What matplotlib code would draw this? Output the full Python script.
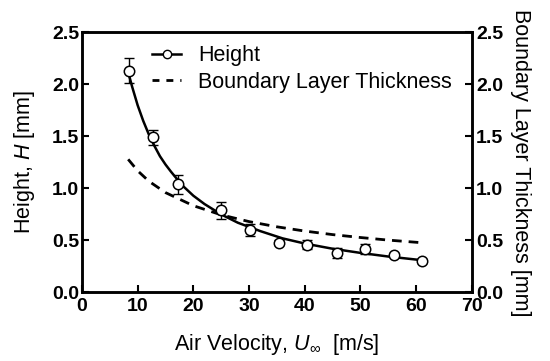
import matplotlib
matplotlib.use("Agg")
import matplotlib.pyplot as plt

# measured height (mean and error) vs air velocity
u_meas = [8.4, 12.7, 17.3, 25.0, 30.1, 35.3, 40.4, 45.8, 50.8, 56.0, 61.0]
h_meas = [2.13, 1.49, 1.04, 0.79, 0.60, 0.48, 0.46, 0.38, 0.42, 0.36, 0.30]
h_err = [0.12, 0.07, 0.09, 0.08, 0.06, 0.02, 0.04, 0.05, 0.05, 0.02, 0.02]

# fitted height curve
u_fit = [8.4, 9, 10, 11, 12, 13, 14, 15, 16, 18, 20, 22, 25, 28, 32, 36, 40, 45, 50, 55, 61]
h_fit = [2.10, 1.98, 1.80, 1.65, 1.52, 1.41, 1.31, 1.23, 1.16, 1.03, 0.93, 0.85,
         0.75, 0.67, 0.59, 0.52, 0.47, 0.42, 0.38, 0.345, 0.31]

# boundary layer thickness curve
u_bl = [8.3, 10, 12, 15, 20, 25, 30, 35, 40, 45, 50, 55, 61]
d_bl = [1.28, 1.17, 1.07, 0.96, 0.834, 0.746, 0.681, 0.631, 0.59, 0.556, 0.528, 0.503, 0.478]

x_ticks = [0, 10, 20, 30, 40, 50, 60, 70]
y_ticks = [0.0, 0.5, 1.0, 1.5, 2.0, 2.5]

plt.rcParams.update({
    "font.family": ["Liberation Sans", "DejaVu Sans"],
    "mathtext.fontset": "custom",
    "mathtext.rm": "Liberation Sans",
    "mathtext.it": "Liberation Sans:italic",
})

fig = plt.figure(figsize=(5.5, 3.61), dpi=100)
ax = fig.add_axes([0.149, 0.19, 0.709, 0.72])

ax.plot(u_fit, h_fit, color="black", lw=1.8, zorder=2)
ax.errorbar(u_meas, h_meas, yerr=h_err, fmt="none", ecolor="black",
            elinewidth=1.0, capsize=3.5, capthick=1.0, zorder=3)
ax.plot(u_meas, h_meas, "o", ms=7.5, mfc="white", mec="black", mew=1.1, zorder=4)
ax.plot(u_bl, d_bl, color="black", lw=2.0, ls=(0, (3.5, 2.5)), zorder=2)

# legend handles
h1, = ax.plot([], [], "-o", color="black", lw=1.8, ms=6, mfc="white", mec="black", mew=1.0)
h2, = ax.plot([], [], color="black", lw=2.0, ls=(0, (2.5, 2.5)))
ax.legend([h1, h2], ["Height", "Boundary Layer Thickness"], loc="upper left",
          bbox_to_anchor=(0.13, 1.025), frameon=False, fontsize=15.5,
          handlelength=1.35, handletextpad=0.8, labelspacing=0.25)

ax.set_xlim(0, 70)
ax.set_ylim(0, 2.5)
ax.set_xticks(x_ticks)
ax.set_yticks(y_ticks)
ax.set_yticklabels([f"{v:.1f}" for v in y_ticks])
ax.tick_params(direction="in", length=5, width=1.5, labelsize=14, pad=2)
ax.tick_params(axis="x", pad=4)
for lab in ax.get_xticklabels() + ax.get_yticklabels():
    lab.set_fontweight("bold")
for sp in ax.spines.values():
    sp.set_linewidth(1.8)

ax.set_xlabel(r"Air Velocity, $\mathit{U}_{\infty}$  [m/s]", fontsize=15.5, labelpad=12)
ax.set_ylabel(r"Height, $\mathit{H}$ [mm]", fontsize=15.5, labelpad=11)

ax2 = ax.twinx()
ax2.set_ylim(0, 2.5)
ax2.set_yticks(y_ticks)
ax2.set_yticklabels([f"{v:.1f}" for v in y_ticks])
ax2.tick_params(direction="in", length=5, width=1.5, labelsize=14, pad=3)
for lab in ax2.get_yticklabels():
    lab.set_fontweight("bold")
for sp in ax2.spines.values():
    sp.set_linewidth(1.8)
ax2.set_ylabel("Boundary Layer Thickness [mm]", fontsize=15.5, rotation=270, labelpad=20)

fig.savefig("out.png", dpi=100)
